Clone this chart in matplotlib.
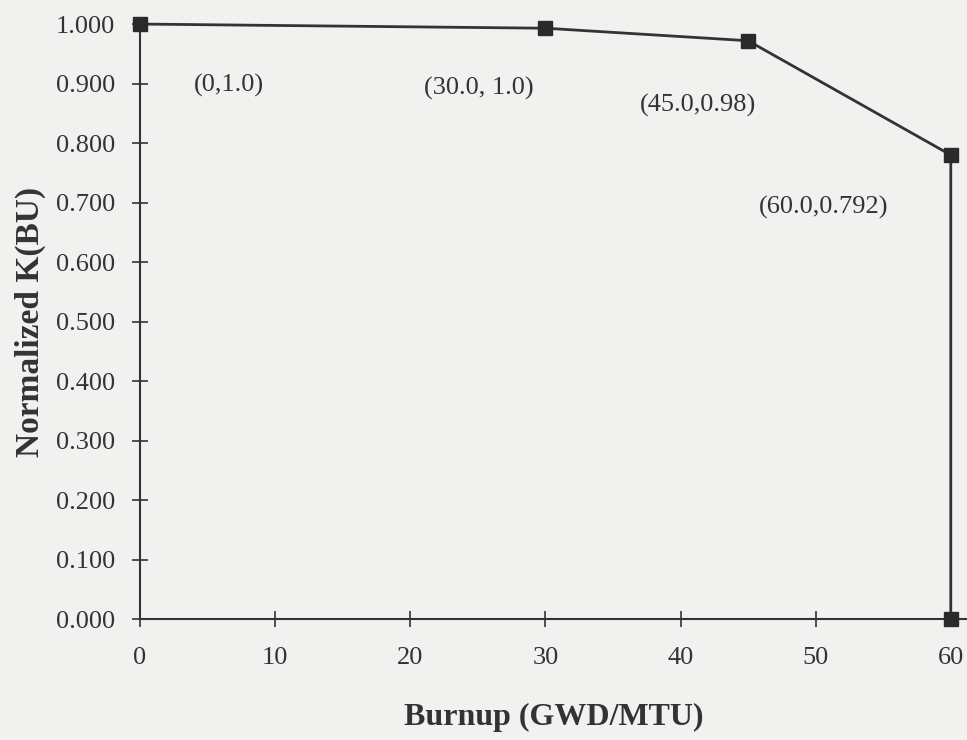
import numpy as np
from matplotlib import pyplot as plt

# datos
burnup = [0.0, 30.0, 45.0, 60.0, 60.0]
k_norm = [1.0, 0.993, 0.972, 0.78, 0.0]

etiquetas = ['(0,1.0)', '(30.0, 1.0)', '(45.0,0.98)', '(60.0,0.792)']
etiq_x = [6.6, 25.1, 41.3, 50.6]
etiq_y = [0.897, 0.892, 0.864, 0.692]

x_ticks = [0, 10, 20, 30, 40, 50, 60]
y_ticks = np.arange(0, 1.01, 0.1)

plt.rcParams['font.family'] = ['Liberation Serif', 'DejaVu Serif']
color = '#333333'
fondo = '#f1f1ef'

fig = plt.figure(figsize=(9.67, 7.40), dpi=100, facecolor=fondo)
ax = fig.add_axes([0.1448, 0.163, 0.8552, 0.8045])
ax.set_facecolor(fondo)

ax.plot(burnup, k_norm, color=color, lw=2, marker='s', ms=10,
        mfc='#2a2a2a', mec='#2a2a2a', clip_on=False, zorder=3)

for t, x, y in zip(etiquetas, etiq_x, etiq_y):
    ax.text(x, y, t, ha='center', va='center', fontsize=19, color=color)

ax.set_xlim(0, 61.2)
ax.set_ylim(0, 1.0)
ax.set_xticks(x_ticks)
ax.set_yticks(y_ticks)
ax.set_yticklabels(['%.3f' % v for v in y_ticks])
ax.tick_params(direction='inout', length=12, width=1.2, color=color,
               labelsize=19, labelcolor=color, pad=12)
ax.tick_params(axis='x', pad=14)

for s in ['top', 'right']:
    ax.spines[s].set_visible(False)
for s in ['left', 'bottom']:
    ax.spines[s].set_color(color)
    ax.spines[s].set_linewidth(1.5)

ax.set_xlabel('Burnup (GWD/MTU)', fontsize=23, fontweight='bold', color=color, labelpad=24)
ax.set_ylabel('Normalized K(BU)', fontsize=24, fontweight='bold', color=color, labelpad=7)

plt.savefig('out.png', dpi=100, facecolor=fondo)
